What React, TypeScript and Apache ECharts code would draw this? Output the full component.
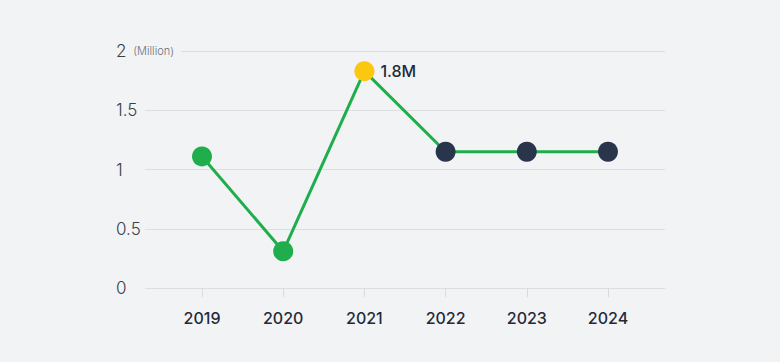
import React, { useEffect, useRef } from "react";
import * as echarts from "echarts";

const years = ["2019", "2020", "2021", "2022", "2023", "2024"];
const values = [1.11, 0.31, 1.83, 1.15, 1.15, 1.15];
const pointColors = ["#1fae4b", "#1fae4b", "#fcc80f", "#28354a", "#28354a", "#28354a"];
const pointLabels = ["", "", "1.8M", "", "", ""];
const yTicks = [0, 0.5, 1, 1.5, 2];
const unitLabel = "(Million)";

export default function App() {
  const ref = useRef<HTMLDivElement>(null);
  useEffect(() => {
    if (!ref.current) return;
    const chart = echarts.init(ref.current, null, { renderer: "svg" });
    const font = "Inter, 'Noto Sans', sans-serif";
    chart.setOption({
      animation: false,
      backgroundColor: "#f2f3f5",
      grid: [
        { left: 145, right: 115, top: 51, bottom: 74 },
        { left: 161.4, right: 131.4, top: 51, bottom: 74 },
      ],
      xAxis: [
        { type: "category", gridIndex: 0, data: years, show: false },
        {
          type: "category",
          gridIndex: 1,
          data: years,
          boundaryGap: true,
          axisLine: { show: false },
          axisTick: { show: true, alignWithLabel: true, length: 9, lineStyle: { color: "#d9dbde", width: 1 } },
          axisLabel: { color: "#1f2a3a", fontSize: 16, fontWeight: 500, fontFamily: font, margin: 22 },
        },
      ],
      yAxis: [
        {
          type: "value",
          gridIndex: 0,
          min: yTicks[0],
          max: yTicks[yTicks.length - 1],
          interval: 0.5,
          axisLine: { show: false },
          axisTick: { show: false },
          splitLine: { lineStyle: { color: "#dcdee1", width: 1 } },
          axisLabel: {
            align: "left",
            margin: 29,
            color: "#3a3f47",
            fontSize: 17,
            fontFamily: font,
            fontWeight: 300,
            formatter: (v: number) => (v === 2 ? `2 {u|${unitLabel}}` : String(v)),
            rich: {
              u: {
                fontSize: 11,
                color: "#6b7078",
                fontFamily: font,
                backgroundColor: "#f2f3f5",
                padding: [0, 7, 0, 2],
                verticalAlign: "middle",
                lineHeight: 14,
              },
            },
          },
        },
        {
          type: "value",
          gridIndex: 1,
          min: yTicks[0],
          max: yTicks[yTicks.length - 1],
          show: false,
          splitLine: { show: false },
        },
      ],
      series: [
        {
          type: "line",
          xAxisIndex: 1,
          yAxisIndex: 1,
          symbol: "circle",
          symbolSize: 20,
          lineStyle: { color: "#1fae4b", width: 3 },
          z: 3,
          data: values.map((v, i) => ({
            value: v,
            itemStyle: { color: pointColors[i], borderColor: pointColors[i], borderWidth: 0 },
            label: pointLabels[i]
              ? {
                  show: true,
                  position: "right",
                  distance: 6,
                  formatter: pointLabels[i],
                  color: "#1f2a3a",
                  fontSize: 16,
                  fontWeight: 500,
                  fontFamily: font,
                }
              : { show: false },
          })),
        },
      ],
    });
    return () => chart.dispose();
  }, []);
  return <div ref={ref} style={{ width: 780, height: 362, position: "absolute", left: 0, top: 0 }} />;
}
